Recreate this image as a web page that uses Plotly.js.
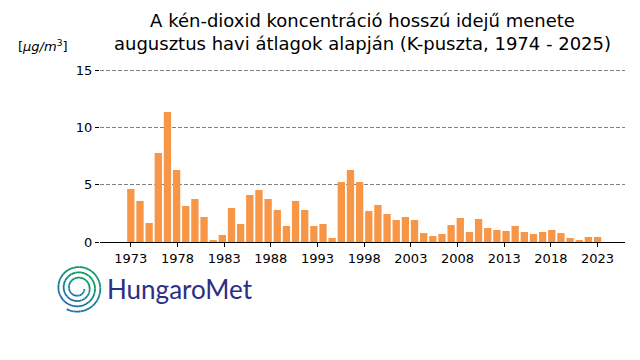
<!DOCTYPE html>
<html>
<head>
<meta charset="utf-8">
<script src="https://cdn.plot.ly/plotly-3.0.1.min.js"></script>
<style>html,body{margin:0;padding:0;background:#fff;}#chart{width:640px;height:360px;}</style>
</head>
<body>
<div id="chart"></div>
<script>
// ---- data ----
const years = [1974,1975,1976,1977,1978,1979,1980,1981,1982,1983,1984,1985,1986,1987,1988,1989,1990,1991,1992,1993,1994,1995,1996,1997,1998,1999,2000,2001,2002,2003,2004,2005,2006,2007,2008,2009,2010,2011,2012,2013,2014,2015,2016,2017,2018,2019,2020,2021,2022,2023,2024,2025];
const so2 = [4.62,3.58,1.66,7.76,11.34,6.28,3.14,3.75,2.18,0.17,0.61,2.97,1.57,4.10,4.53,3.75,2.79,1.40,3.58,2.79,1.40,1.57,0.35,5.23,6.28,5.23,2.70,3.23,2.44,1.92,2.18,1.92,0.78,0.52,0.70,1.48,2.09,0.87,2.01,1.22,1.05,0.96,1.40,0.87,0.70,0.87,1.05,0.78,0.35,0.17,0.44,0.44];
const tickLabels = ["1973","1978","1983","1988","1993","1998","2003","2008","2013","2018","2023"];
const yTicks = [0,5,10,15];

// tick positions spread evenly over the bar span (as in the reference)
const first = years[0], last = years[years.length-1];
const tickPos = tickLabels.map((t,k)=> first + k*(last-first)/(tickLabels.length-1));

// ---- layout geometry ----
const L=100, R=625, T=68, B=242;
function toPaper(px,py){return [(px-L)/(R-L),(B-py)/(B-T)];}
function mix(c1,c2,t){return 'rgb('+c1.map((v,i)=>Math.round(v+(c2[i]-v)*t)).join(',')+')';}
const green=[18,154,100], blue=[28,110,178];
const shapes=[];
const cx=78, cy=288;
const a0=118*Math.PI/180, turns=3.3, nSeg=70;
for(let s=0;s<nSeg;s++){
  const pts=[];
  for(let j=0;j<=6;j++){
    const u=(s+j/6)/nSeg;
    const a=a0-u*turns*2*Math.PI;
    const r=24-u*17.5;
    pts.push(toPaper(cx+r*Math.cos(a), cy+r*Math.sin(a)));
  }
  const um=(s+0.5)/nSeg, am=a0-um*turns*2*Math.PI;
  const t=Math.min(1,Math.max(0,(1+Math.sin(am)-0.6*Math.cos(am))/2.2));
  shapes.push({type:'path',xref:'paper',yref:'paper',
    path:'M'+pts.map(p=>p[0].toFixed(5)+','+p[1].toFixed(5)).join(' L'),
    line:{color:mix(green,blue,t),width:1.8}});
}

const trace={type:'bar',x:years,y:so2,marker:{color:'#f79646'},hoverinfo:'x+y'};

const layout={
  width:640,height:360,
  margin:{l:L,r:640-R,t:T,b:360-B},
  paper_bgcolor:'#fff',plot_bgcolor:'#fff',
  bargap:0.2,showlegend:false,
  font:{family:'DejaVu Sans, sans-serif',size:13,color:'#000'},
  title:{text:'A kén-dioxid koncentráció hosszú idejű menete<br>augusztus havi átlagok alapján (K-puszta, 1974 - 2025)',
    font:{family:'DejaVu Sans, sans-serif',size:18,color:'#000'},
    x:0.5,xanchor:'center',xref:'paper',y:0.925,yanchor:'top'},
  xaxis:{range:[1970.63,2028.0],tickmode:'array',tickvals:tickPos,ticktext:tickLabels,
    showgrid:false,zeroline:false,showline:true,linecolor:'#000',linewidth:1,
    ticks:'outside',ticklen:4,tickcolor:'#000',tickfont:{size:13,color:'#000'}},
  yaxis:{range:[0,15.174],tickmode:'array',tickvals:yTicks,ticktext:yTicks.map(String),
    showgrid:true,gridcolor:'#808080',griddash:'4px,2px',gridwidth:1,zeroline:false,showline:false,
    ticks:'outside',ticklen:4,tickcolor:'#000',tickfont:{size:13,color:'#000'}},
  annotations:[
    {text:'[<i>μg/m</i><sup>3</sup>]',xref:'paper',yref:'paper',x:(43-L)/(R-L),y:(B-46)/(B-T),
     xanchor:'center',yanchor:'middle',showarrow:false,font:{size:13,color:'#000'}},
    {text:'HungaroMet',xref:'paper',yref:'paper',x:(105-L)/(R-L),y:(B-289)/(B-T),
     xanchor:'left',yanchor:'middle',showarrow:false,font:{family:'Lato, sans-serif',size:26,color:'#2b2f86'}}
  ],
  shapes:shapes
};
Plotly.newPlot('chart',[trace],layout,{displayModeBar:false,staticPlot:true});
</script>
</body>
</html>
